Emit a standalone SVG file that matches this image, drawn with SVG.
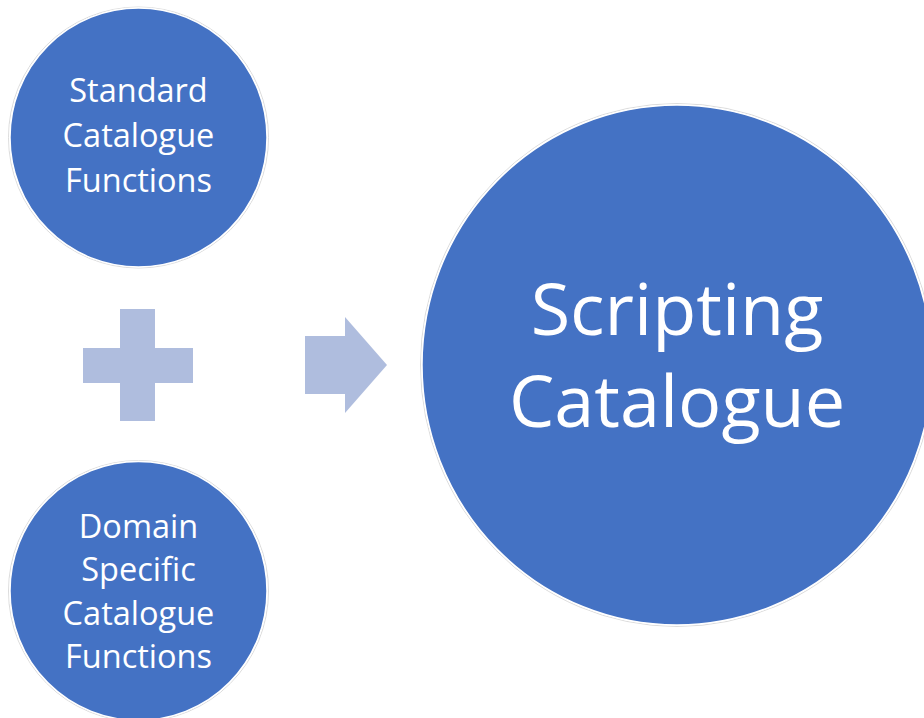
<svg xmlns="http://www.w3.org/2000/svg" width="924" height="718" viewBox="0 0 924 718">
  <style>
    .node { fill: #4472C4; stroke: #ffffff; stroke-width: 1.5; }
    .ring { fill: none; stroke: #dcdcdc; stroke-width: 1; }
    .sym { fill: #AFBDDE; }
    .lbl { font-family: "Open Sans", "Liberation Sans", sans-serif; fill: #ffffff; text-anchor: middle; }
    .small { font-size: 32.5px; }
    .big { font-size: 72px; }
  </style>
  <rect width="924" height="718" fill="#ffffff"/>
  <g id="connectors">
    <path id="plus" class="sym" d="M120,309 H155 V348 H193 V383 H155 V421 H120 V383 H83 V348 H120 Z"/>
    <path id="arrow" class="sym" d="M305,336 H345 V317 L387,365 L345,413 V394 H305 Z"/>
  </g>
  <g id="node-standard">
    <ellipse class="ring" cx="138.5" cy="137.5" rx="130" ry="130.5"/>
    <ellipse class="node" cx="138.5" cy="137.5" rx="128.5" ry="129.5"/>
    <text class="lbl small" x="138.5" y="102">Standard</text>
    <text class="lbl small" x="138.5" y="147">Catalogue</text>
    <text class="lbl small" x="138.5" y="192">Functions</text>
  </g>
  <g id="node-domain">
    <ellipse class="ring" cx="138.5" cy="591" rx="130" ry="130.5"/>
    <ellipse class="node" cx="138.5" cy="591" rx="128.5" ry="129.5"/>
    <text class="lbl small" x="138.5" y="538">Domain</text>
    <text class="lbl small" x="138.5" y="581">Specific</text>
    <text class="lbl small" x="138.5" y="625">Catalogue</text>
    <text class="lbl small" x="138.5" y="668">Functions</text>
  </g>
  <g id="node-scripting">
    <ellipse class="ring" cx="677" cy="365" rx="256.5" ry="261.5"/>
    <ellipse class="node" cx="677" cy="365" rx="255" ry="260"/>
    <text class="lbl big" x="677" y="335">Scripting</text>
    <text class="lbl big" x="677" y="427">Catalogue</text>
  </g>
</svg>
